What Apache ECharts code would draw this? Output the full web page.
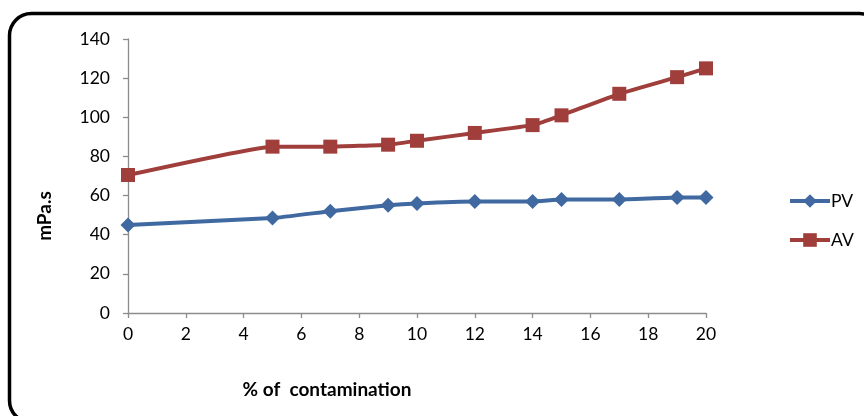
<!DOCTYPE html>
<html>
<head>
<meta charset="utf-8">
<script src="https://cdn.jsdelivr.net/npm/echarts@6/dist/echarts.min.js"></script>
<style>
  html, body { margin: 0; padding: 0; background: #fff; }
  #chart { width: 864px; height: 416px; }
</style>
</head>
<body>
<div id="chart"></div>
<script>
// Contamination level (%) at which each sample was measured
const contamination = [0, 5, 7, 9, 10, 12, 14, 15, 17, 19, 20];
// Plastic viscosity (mPa.s)
const pvValues = [45, 48.5, 52, 55, 56, 57, 57, 58, 58, 59, 59];
// Apparent viscosity (mPa.s)
const avValues = [70.5, 85, 85, 86, 88, 92, 96, 101, 112, 120.5, 125];
// Axis tick settings
const xTicks = { min: 0, max: 20, step: 2 };
const yTicks = { min: 0, max: 140, step: 20 };

const FONT = 'Lato';
const BLUE = '#3F69A0';
const RED = '#A03E3C';
const AXIS = '#8C8C8C';

const pairs = (xs, ys) => xs.map((x, i) => [x, ys[i]]);

const chart = echarts.init(document.getElementById('chart'), null, { renderer: 'canvas' });

chart.setOption({
  animation: false,
  backgroundColor: '#fff',
  textStyle: { fontFamily: FONT },
  grid: { left: 128, right: 158, top: 39, bottom: 103, containLabel: false },
  xAxis: {
    type: 'value',
    min: xTicks.min, max: xTicks.max, interval: xTicks.step,
    axisLine: { lineStyle: { color: AXIS, width: 1.3 } },
    axisTick: { show: true, inside: false, length: 5, lineStyle: { color: AXIS, width: 1.3 } },
    splitLine: { show: false },
    axisLabel: { color: '#000', fontSize: 17.5, fontFamily: FONT, margin: 12 }
  },
  yAxis: {
    type: 'value',
    min: yTicks.min, max: yTicks.max, interval: yTicks.step,
    axisLine: { show: true, lineStyle: { color: AXIS, width: 1.3 } },
    axisTick: { show: true, inside: false, length: 5, lineStyle: { color: AXIS, width: 1.3 } },
    splitLine: { show: false },
    axisLabel: { color: '#000', fontSize: 17.5, fontFamily: FONT, margin: 18 }
  },
  legend: {
    orient: 'vertical',
    left: 783, top: 187,
    itemWidth: 40, itemHeight: 17, itemGap: 21,
    lineStyle: { width: 4 },
    textStyle: { color: '#000', fontSize: 17.5, fontFamily: FONT, padding: [0, 0, 0, -4] },
    data: ['PV', 'AV']
  },
  series: [
    {
      name: 'PV', type: 'line', smooth: 0.1,
      data: pairs(contamination, pvValues),
      symbol: 'diamond', symbolSize: 15,
      lineStyle: { color: BLUE, width: 4 },
      itemStyle: { color: BLUE }
    },
    {
      name: 'AV', type: 'line', smooth: 0.1,
      data: pairs(contamination, avValues),
      symbol: 'rect', symbolSize: 14,
      lineStyle: { color: RED, width: 4 },
      itemStyle: { color: RED }
    }
  ],
  graphic: [
    {
      type: 'rect', z: 100, silent: true,
      shape: { x: 9.5, y: 13.5, width: 872, height: 409, r: 22 },
      style: { fill: 'none', stroke: '#000', lineWidth: 3.5 }
    },
    {
      type: 'text',
      x: 327, y: 390,
      style: {
        text: '% of  contamination', fontSize: 19, fontWeight: 'bold',
        fontFamily: FONT, fill: '#000', textAlign: 'center', textVerticalAlign: 'middle'
      }
    },
    {
      type: 'text',
      x: 45, y: 216, rotation: Math.PI / 2,
      style: {
        text: 'mPa.s', fontSize: 19, fontWeight: 'bold',
        fontFamily: FONT, fill: '#000', textAlign: 'center', textVerticalAlign: 'middle'
      }
    }
  ]
});
</script>
</body>
</html>
